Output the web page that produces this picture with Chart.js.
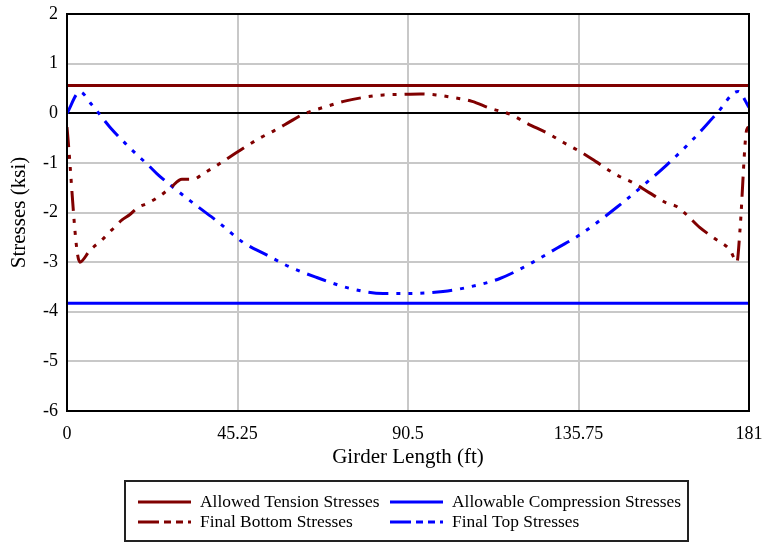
<!DOCTYPE html>
<html>
<head>
<meta charset="utf-8">
<script src="https://cdn.jsdelivr.net/npm/chart.js@4"></script>
<style>
  html, body { margin: 0; padding: 0; background: #fff; }
  #wrap { width: 765px; height: 544px; position: relative; }
</style>
</head>
<body>
<div id="wrap"><canvas id="chart-stresses"></canvas></div>
<script>
const girderLength = 181;
const xTicks = [0, 45.25, 90.5, 135.75, 181];

const allowedTension = 0.56;
const allowableCompression = -3.83;

const bottomX = [0, 3.4, 6.1, 9.3, 11.9, 14.6, 16.7, 18.8, 21.5, 24.2, 27.5, 30.5, 33.4, 36.5, 40, 43.8, 47.5, 51.2, 55, 58.5, 62.4, 66, 69, 74, 79.6, 84, 88.4, 93.7, 98, 103, 107.5, 112.3, 117.6, 122, 128.2, 132, 136.1, 140.5, 144.9, 146.8, 150.2, 154.5, 159.2, 161.8, 164.5, 167.9, 172, 176, 177.8, 178.6, 180.4, 181];
const bottomY = [-0.28, -3.0, -2.76, -2.55, -2.35, -2.15, -2.04, -1.9, -1.81, -1.69, -1.5, -1.33, -1.33, -1.2, -1.04, -0.85, -0.67, -0.5, -0.35, -0.2, -0.03, 0.07, 0.14, 0.25, 0.33, 0.37, 0.38, 0.39, 0.37, 0.31, 0.24, 0.1, -0.02, -0.2, -0.43, -0.6, -0.77, -0.98, -1.2, -1.28, -1.4, -1.6, -1.81, -1.88, -2.05, -2.3, -2.53, -2.76, -3.0, -2.36, -0.33, -0.28];

const topX = [0, 3.4, 6.6, 11.4, 15.9, 18.6, 21.5, 23.9, 27.3, 34.5, 40.1, 46.7, 53.1, 59.2, 66.3, 75.1, 83.9, 91, 99.8, 106.2, 114.9, 123.7, 130, 136.1, 146, 154.7, 159.2, 166.1, 172.5, 178.1, 181];
const topY = [0, 0.43, 0.17, -0.28, -0.64, -0.84, -1.04, -1.22, -1.44, -1.87, -2.19, -2.6, -2.86, -3.1, -3.31, -3.53, -3.63, -3.63, -3.59, -3.51, -3.33, -3.0, -2.72, -2.45, -1.89, -1.34, -1.04, -0.53, 0.0, 0.44, 0.12];

const darkRed = '#800000';
const blue = '#0000ff';
const serif = "'Liberation Serif', 'Times New Roman', serif";
const dashDotDot = [20, 8, 4, 8, 4, 8, 4, 8];

const pts = (xs, ys) => xs.map((x, i) => ({ x: x, y: ys[i] }));

const legendItems = [
    { label: 'Allowed Tension Stresses', color: darkRed, dash: [], col: 0, row: 0 },
    { label: 'Allowable Compression Stresses', color: blue, dash: [], col: 1, row: 0 },
    { label: 'Final Bottom Stresses', color: darkRed, dash: [21, 5, 7, 5, 7, 5, 7], col: 0, row: 1 },
    { label: 'Final Top Stresses', color: blue, dash: [21, 5, 7, 5, 7, 5, 7], col: 1, row: 1 }
];

const framePlugin = {
    id: 'frame',
    afterDraw(chart) {
        const ctx = chart.ctx;
        const a = chart.chartArea;
        ctx.save();
        ctx.strokeStyle = '#000';
        ctx.lineWidth = 2;
        ctx.setLineDash([]);
        ctx.strokeRect(a.left, a.top, a.right - a.left, a.bottom - a.top);

        // legend box under the plot
        ctx.strokeStyle = '#222';
        ctx.strokeRect(125, 481, 563, 60);
        ctx.font = '17.4px ' + serif;
        ctx.fillStyle = '#000';
        ctx.textBaseline = 'middle';
        legendItems.forEach(item => {
            const x0 = item.col === 0 ? 138 : 390;
            const tx = item.col === 0 ? 200 : 452;
            const y = 502 + item.row * 20;
            ctx.beginPath();
            ctx.strokeStyle = item.color;
            ctx.lineWidth = 3;
            ctx.setLineDash(item.dash);
            ctx.moveTo(x0, y);
            ctx.lineTo(x0 + 53, y);
            ctx.stroke();
            ctx.setLineDash([]);
            ctx.fillText(item.label, tx, y);
        });
        ctx.restore();
    }
};

new Chart(document.getElementById('chart-stresses').getContext('2d'), {
    type: 'line',
    data: {
        datasets: [
            {
                label: 'Allowed Tension Stresses',
                data: pts([0, girderLength], [allowedTension, allowedTension]),
                borderColor: darkRed, borderWidth: 3, pointRadius: 0
            },
            {
                label: 'Allowable Compression Stresses',
                data: pts([0, girderLength], [allowableCompression, allowableCompression]),
                borderColor: blue, borderWidth: 3, pointRadius: 0
            },
            {
                label: 'Final Bottom Stresses',
                data: pts(bottomX, bottomY),
                borderColor: darkRed, borderWidth: 3, pointRadius: 0,
                borderDash: dashDotDot, cubicInterpolationMode: 'monotone'
            },
            {
                label: 'Final Top Stresses',
                data: pts(topX, topY),
                borderColor: blue, borderWidth: 3, pointRadius: 0,
                borderDash: dashDotDot, cubicInterpolationMode: 'monotone'
            }
        ]
    },
    options: {
        responsive: true,
        maintainAspectRatio: false,
        animation: false,
        layout: { padding: { left: 0, right: 16, top: 14, bottom: 73 } },
        plugins: { legend: { display: false }, tooltip: { enabled: false } },
        scales: {
            x: {
                type: 'linear',
                min: 0,
                max: girderLength,
                afterBuildTicks: scale => { scale.ticks = xTicks.map(v => ({ value: v })); },
                afterFit: scale => {
                    scale.height = 60;
                    scale.paddingLeft = 0;
                    scale.paddingRight = 0;
                },
                ticks: {
                    padding: 12,
                    color: '#000',
                    font: { family: serif, size: 18 },
                    callback: v => String(v),
                    maxRotation: 0,
                    autoSkip: false
                },
                grid: { color: '#c8c8c8', lineWidth: 2, drawTicks: false },
                border: { display: false },
                title: {
                    display: true,
                    text: 'Girder Length (ft)',
                    color: '#000',
                    font: { family: serif, size: 21 },
                    padding: { top: 0, bottom: 1 }
                }
            },
            y: {
                min: -6,
                max: 2,
                afterFit: scale => {
                    scale.width = 67;
                    scale.paddingTop = 0;
                    scale.paddingBottom = 0;
                },
                ticks: {
                    stepSize: 1,
                    padding: 9,
                    color: '#000',
                    font: { family: serif, size: 18 }
                },
                grid: {
                    color: ctx => ctx.tick && ctx.tick.value === 0 ? '#000' : '#c8c8c8',
                    lineWidth: 2,
                    drawTicks: false
                },
                border: { display: false },
                title: {
                    display: true,
                    text: 'Stresses (ksi)',
                    color: '#000',
                    font: { family: serif, size: 21 },
                    padding: { top: 7, bottom: 0 }
                }
            }
        }
    },
    plugins: [framePlugin]
});
</script>
</body>
</html>
